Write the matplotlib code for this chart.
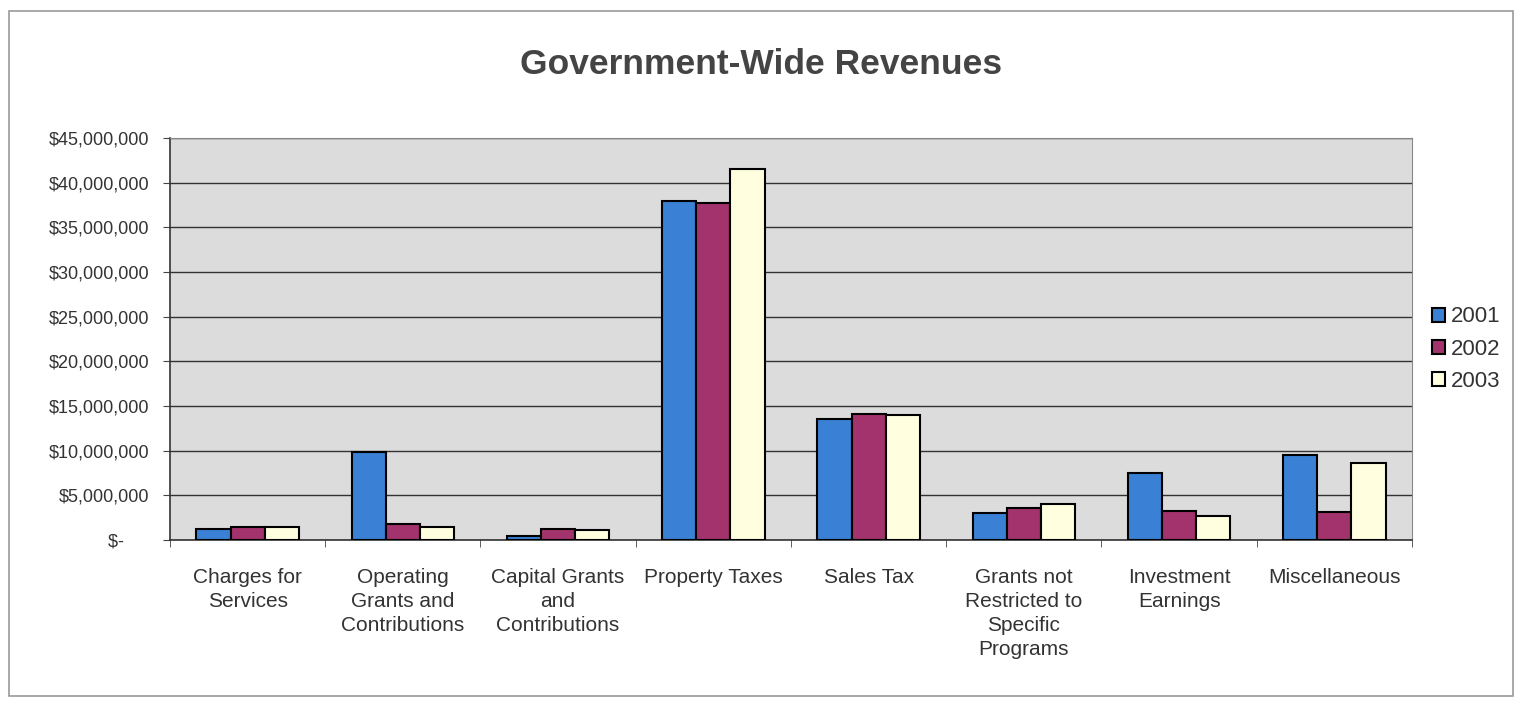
import matplotlib.pyplot as plt
import numpy as np
from matplotlib.patches import Rectangle

plt.rcParams['font.family'] = ['Liberation Sans', 'DejaVu Sans']

categories = ['Charges for\nServices', 'Operating\nGrants and\nContributions',
              'Capital Grants\nand\nContributions', 'Property Taxes', 'Sales Tax',
              'Grants not\nRestricted to\nSpecific\nPrograms', 'Investment\nEarnings',
              'Miscellaneous']
years = ['2001', '2002', '2003']
rev_2001 = [1.2e6, 9.8e6, 0.4e6, 38.0e6, 13.5e6, 3.0e6, 7.5e6, 9.5e6]
rev_2002 = [1.5e6, 1.8e6, 1.2e6, 37.7e6, 14.1e6, 3.6e6, 3.2e6, 3.1e6]
rev_2003 = [1.4e6, 1.5e6, 1.15e6, 41.5e6, 14.0e6, 4.0e6, 2.7e6, 8.6e6]
yticks = np.arange(0, 45e6 + 1, 5e6)

colors = ['#3a80d4', '#a3336c', '#ffffe0']
txt = '#333333'

fig = plt.figure(figsize=(15.22, 7.04), dpi=100)
fig.patches.append(Rectangle((0.006, 0.012), 0.988, 0.972, transform=fig.transFigure,
                             fill=False, edgecolor='#9a9a9a', linewidth=1.2))
ax = fig.add_axes([0.1117, 0.233, 0.816, 0.571])
ax.set_facecolor('#dcdcdc')

x = np.arange(len(categories))
w = 0.22
for i, vals in enumerate([rev_2001, rev_2002, rev_2003]):
    ax.bar(x + (i - 1) * w, vals, width=w, color=colors[i], edgecolor='black',
           linewidth=1.5, label=years[i], zorder=3)

ax.set_xlim(-0.5, len(categories) - 0.5)
ax.set_ylim(0, 45e6)
ax.set_yticks(yticks)
ax.set_yticklabels(['$-     '] + ['${:,.0f}'.format(v) for v in yticks[1:]],
                   fontsize=13, color=txt)
ax.yaxis.grid(True, color='#333333', linewidth=1.0, zorder=1)
ax.set_xticks(x)
ax.set_xticklabels(categories, fontsize=15, linespacing=1.35, color=txt)
ax.set_xticks(np.arange(-0.5, len(categories)), minor=True)
ax.tick_params(axis='x', which='major', length=0, pad=20)
ax.tick_params(axis='x', which='minor', length=5, color='#444444')
ax.tick_params(axis='y', length=5, color='#444444', pad=10)
for s in ['top', 'right']:
    ax.spines[s].set_color('#888888')
for s in ['left', 'bottom']:
    ax.spines[s].set_color('#333333')
    ax.spines[s].set_linewidth(1.2)

fig.text(0.5, 0.909, 'Government-Wide Revenues', ha='center', va='center',
         fontsize=25.5, fontweight='bold', color='#444444')

leg = ax.legend(loc='center left', bbox_to_anchor=(1.0, 0.475), frameon=False,
                fontsize=16, handlelength=0.6, handleheight=0.6, handletextpad=0.25,
                labelspacing=0.5)
for t in leg.get_texts():
    t.set_color(txt)

fig.savefig('out.png', dpi=100)
